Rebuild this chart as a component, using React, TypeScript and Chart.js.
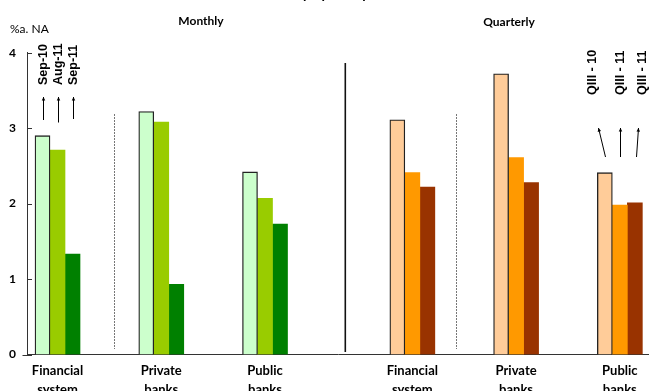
import React, { useEffect, useRef } from "react";
import { Chart, registerables } from "chart.js";

Chart.register(...registerables);

// ---- data ----
const categories = [["Financial", "system"], ["Private", "banks"], ["Public", "banks"]];
const monthlyPeriods = ["Sep-10", "Aug-11", "Sep-11"];
const quarterlyPeriods = ["QIII - 10", "QIII - 11", "QIII - 11"];
const monthlySep10 = [2.9, 3.22, 2.42];
const monthlyAug11 = [2.71, 3.08, 2.07];
const monthlySep11 = [1.33, 0.93, 1.73];
const quarterlyQIII10 = [3.11, 3.72, 2.41];
const quarterlyQIII11a = [2.41, 2.61, 1.98];
const quarterlyQIII11b = [2.22, 2.28, 2.01];
const yTickValues = [0, 1, 2, 3, 4];
const yUnitLabel = "%a. NA";
const panelTitles = ["Monthly", "Quarterly"];
const chartTitle = "Profitability by Groups of Banks";

// ---- styles / layout ----
const monthlyColors = ["#CCFFCC", "#99CC00", "#008000"];
const quarterlyColors = ["#FFCC99", "#FF9900", "#993300"];
const QUARTER_OFFSET = 3.42;
const X_MIN = -0.294;
const X_MAX = 5.701;
const FONT = "Lato, 'Open Sans', sans-serif";
const LABEL_FONT = "'Liberation Sans', Arial, sans-serif";

const monthlySeries = [monthlySep10, monthlyAug11, monthlySep11];
const quarterlySeries = [quarterlyQIII10, quarterlyQIII11a, quarterlyQIII11b];
const tickPositions = [
  ...categories.map((_, i) => i),
  ...categories.map((_, i) => QUARTER_OFFSET + i),
];

const annotations = {
  id: "annotations",
  afterDraw(chart: any) {
    const { ctx, chartArea, scales } = chart;
    const y = scales.y;
    ctx.save();
    // inward y ticks
    ctx.strokeStyle = "#333";
    ctx.lineWidth = 1;
    yTickValues.forEach((v) => {
      const py = Math.round(y.getPixelForValue(v)) + 0.5;
      ctx.beginPath();
      ctx.moveTo(chartArea.left, py);
      ctx.lineTo(chartArea.left + 5, py);
      ctx.stroke();
    });
    // x axis extension to the left
    const by = Math.round(chartArea.bottom) + 0.5;
    ctx.beginPath();
    ctx.moveTo(chartArea.left - 4.5, by);
    ctx.lineTo(chartArea.left, by);
    ctx.stroke();

    // separators
    ctx.strokeStyle = "#777";
    ctx.setLineDash([2, 1]);
    [114.5, 456.5].forEach((sx) => {
      ctx.beginPath();
      ctx.moveTo(sx, 114);
      ctx.lineTo(sx, 349);
      ctx.stroke();
    });
    ctx.setLineDash([]);
    ctx.strokeStyle = "#111";
    ctx.lineWidth = 1.6;
    ctx.beginPath();
    ctx.moveTo(345.3, 63);
    ctx.lineTo(345.3, 352);
    ctx.stroke();

    // texts
    ctx.fillStyle = "#000";
    ctx.textAlign = "center";
    ctx.textBaseline = "alphabetic";
    ctx.font = `bold 14px ${FONT}`;
    ctx.fillText(chartTitle, 335, -1);
    ctx.font = `bold 12px ${FONT}`;
    ctx.textBaseline = "middle";
    ctx.fillText(panelTitles[0], 201, 21);
    ctx.fillText(panelTitles[1], 509, 22);
    ctx.textAlign = "left";
    ctx.font = `12px ${FONT}`;
    ctx.fillText(yUnitLabel, 10, 29);

    // arrows + period labels
    const drawArrow = (x1: number, y1: number, x2: number, y2: number) => {
      ctx.strokeStyle = "#000";
      ctx.fillStyle = "#000";
      ctx.lineWidth = 1;
      ctx.beginPath();
      ctx.moveTo(x1, y1);
      ctx.lineTo(x2, y2);
      ctx.stroke();
      const ang = Math.atan2(y2 - y1, x2 - x1);
      const hl = 4;
      ctx.beginPath();
      ctx.moveTo(x2, y2);
      ctx.lineTo(x2 - hl * Math.cos(ang - 0.45), y2 - hl * Math.sin(ang - 0.45));
      ctx.lineTo(x2 - hl * Math.cos(ang + 0.45), y2 - hl * Math.sin(ang + 0.45));
      ctx.closePath();
      ctx.fill();
    };
    const drawVertLabel = (text: string, x: number, yBottom: number) => {
      ctx.save();
      ctx.translate(x, yBottom);
      ctx.rotate(-Math.PI / 2);
      ctx.textAlign = "left";
      ctx.textBaseline = "middle";
      ctx.font = `bold 12.5px ${LABEL_FONT}`;
      ctx.fillStyle = "#000";
      ctx.fillText(text, 0, 0);
      ctx.restore();
    };
    const mBottoms = [120, 122.5, 119];
    for (let d = 0; d < 3; d++) {
      const bar = chart.getDatasetMeta(d).data[0];
      const bx = Math.round(bar.x) + 0.5;
      drawArrow(bx, mBottoms[d], bx, 97);
      drawVertLabel(monthlyPeriods[d], bx, 85);
    }
    const qOffTop = [-7, 0, 3];
    const qOffLabel = [-13, 0, 7.5];
    for (let d = 0; d < 3; d++) {
      const bar = chart.getDatasetMeta(d).data[5];
      const bx = Math.round(bar.x) + 0.5;
      drawArrow(bx + (d === 2 ? 1 : 0), 157, bx + qOffTop[d], 128);
      drawVertLabel(quarterlyPeriods[d], bx + qOffLabel[d], 95);
    }
    ctx.restore();
  },
};

export default function App() {
  const ref = useRef<HTMLCanvasElement | null>(null);
  useEffect(() => {
    if (!ref.current) return;
    Chart.defaults.font.family = FONT;
    const datasets = [0, 1, 2].map((s) => ({
      label: `${monthlyPeriods[s]} / ${quarterlyPeriods[s]}`,
      data: [
        ...monthlySeries[s].map((v, i) => ({ x: i, y: v })),
        ...quarterlySeries[s].map((v, i) => ({ x: QUARTER_OFFSET + i, y: v })),
      ],
      backgroundColor: [...categories.map(() => monthlyColors[s]), ...categories.map(() => quarterlyColors[s])],
      borderColor: "#222",
      borderWidth: s === 0 ? 1.3 : 0,
      borderSkipped: "bottom" as const,
      barThickness: 15,
    }));
    const chart = new Chart(ref.current, {
      type: "bar",
      data: { datasets },
      options: {
        animation: false,
        responsive: false,
        layout: { padding: { top: 52.7, right: 0, left: 0, bottom: 0 } },
        plugins: { legend: { display: false }, tooltip: { enabled: false }, title: { display: false } },
        scales: {
          x: {
            type: "linear",
            min: X_MIN,
            max: X_MAX,
            offset: false,
            bounds: "data",
            grid: { display: false, drawTicks: false, offset: false },
            border: { display: true, color: "#333", width: 1 },
            afterBuildTicks: (scale: any) => {
              scale.ticks = tickPositions.map((v) => ({ value: v }));
            },
            afterFit: (scale: any) => {
              scale.height = 36.5;
            },
            ticks: {
              autoSkip: false,
              maxRotation: 0,
              minRotation: 0,
              padding: 7,
              color: "#000",
              font: { size: 13, weight: "bold", lineHeight: 1.45 },
              callback: (_v: any, idx: number) => categories[idx % categories.length],
            },
          },
          y: {
            type: "linear",
            min: 0,
            max: 4,
            grid: { display: false, drawTicks: false },
            border: { display: true, color: "#333", width: 1 },
            afterBuildTicks: (scale: any) => {
              scale.ticks = yTickValues.map((v) => ({ value: v }));
            },
            afterFit: (scale: any) => {
              scale.width = 27;
            },
            ticks: {
              padding: 11,
              color: "#000",
              font: { size: 12, weight: "bold" },
              callback: (v: any) => String(v),
            },
          },
        },
      },
      plugins: [annotations],
    } as any);
    return () => chart.destroy();
  }, []);
  return (
    <div style={{ position: "fixed", left: 0, top: 0, width: 649, height: 391, background: "#fff" }}>
      <canvas ref={ref} width={649} height={391} style={{ display: "block" }} />
    </div>
  );
}
